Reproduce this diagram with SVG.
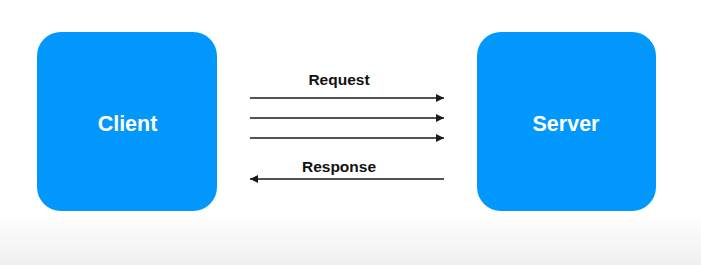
<svg xmlns="http://www.w3.org/2000/svg" width="701" height="265" viewBox="0 0 701 265">
  <style>
    .box { fill: #0197fd; }
    .node-label { font-family: "Liberation Sans", Arial, sans-serif; font-weight: bold; font-size: 21.5px; fill: #ffffff; text-anchor: middle; }
    .edge-label { font-family: "Liberation Sans", Arial, sans-serif; font-weight: bold; font-size: 15.5px; fill: #111111; text-anchor: middle; }
    .wire { stroke: #1a1a1a; stroke-width: 1.3; fill: none; }
  </style>
  <defs>
    <linearGradient id="floor" x1="0" y1="0" x2="0" y2="1">
      <stop offset="0" stop-color="#ffffff"/>
      <stop offset="1" stop-color="#efefef"/>
    </linearGradient>
    <marker id="head" viewBox="0 0 10 10" refX="10" refY="5" markerWidth="9" markerHeight="8" markerUnits="userSpaceOnUse" orient="auto">
      <path d="M0,0 L10,5 L0,10 z" fill="#1a1a1a"/>
    </marker>
  </defs>

  <rect width="701" height="265" fill="#ffffff"/>
  <rect x="0" y="215" width="701" height="50" fill="url(#floor)"/>

  <g id="client">
    <rect class="box" x="37" y="32" width="180" height="179" rx="24"/>
    <text class="node-label" x="127.5" y="131">Client</text>
  </g>

  <g id="server">
    <rect class="box" x="477" y="32" width="179" height="179" rx="24"/>
    <text class="node-label" x="566" y="131">Server</text>
  </g>

  <g id="connectors">
    <line class="wire" x1="250" y1="98" x2="444" y2="98" marker-end="url(#head)"/>
    <line class="wire" x1="250" y1="118" x2="444" y2="118" marker-end="url(#head)"/>
    <line class="wire" x1="250" y1="138" x2="444" y2="138" marker-end="url(#head)"/>
    <line class="wire" x1="444" y1="179" x2="250" y2="179" marker-end="url(#head)"/>
    <text class="edge-label" x="339" y="85">Request</text>
    <text class="edge-label" x="339" y="172">Response</text>
  </g>
</svg>
